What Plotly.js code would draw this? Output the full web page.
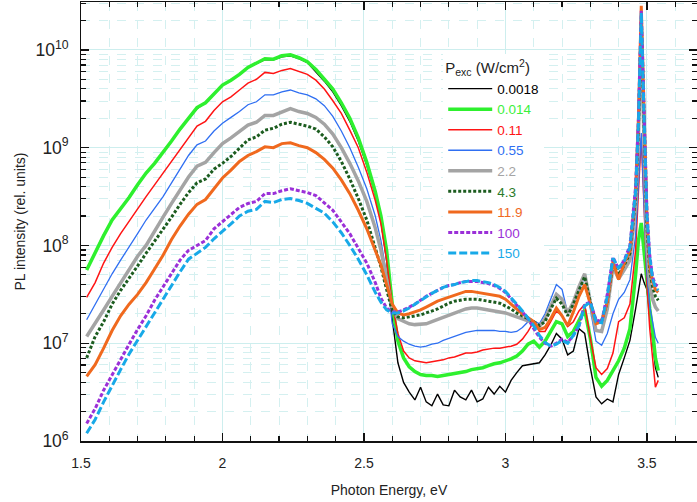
<!DOCTYPE html>
<html>
<head>
<meta charset="utf-8">
<script src="https://cdn.plot.ly/plotly-3.0.1.min.js"></script>
<style>html,body{margin:0;padding:0;background:#fff;}#chart{width:697px;height:502px;}</style>
</head>
<body>
<div id="chart"></div>
<script>
// Photon energy grid (eV)
const energy = [1.52,1.55,1.58,1.61,1.64,1.67,1.70,1.73,1.76,1.79,1.82,1.85,1.88,1.91,1.94,1.97,2.00,2.03,2.06,2.09,2.12,2.15,2.18,2.21,2.24,2.27,2.30,2.33,2.36,2.39,2.42,2.45,2.48,2.51,2.54,2.56,2.58,2.60,2.62,2.64,2.66,2.68,2.70,2.72,2.74,2.76,2.78,2.80,2.82,2.84,2.86,2.88,2.90,2.92,2.94,2.96,2.98,3.00,3.02,3.04,3.06,3.08,3.10,3.12,3.14,3.16,3.18,3.20,3.22,3.24,3.26,3.28,3.30,3.32,3.34,3.36,3.38,3.40,3.42,3.44,3.46,3.47,3.48,3.49,3.50,3.51,3.52,3.53,3.54];

// Legend labels (excitation power density, W/cm^2)
const powerLabels = ["0.0018","0.014","0.11","0.55","2.2","4.3","11.9","100","150"];

// PL intensity (rel. units) for each excitation power
const pl_0p0018 = [5.75e7,8.71e7,1.29e8,1.82e8,2.40e8,3.09e8,4.17e8,5.50e8,6.92e8,8.91e8,1.17e9,1.55e9,2.00e9,2.51e9,2.88e9,3.55e9,4.37e9,4.90e9,5.62e9,6.61e9,7.24e9,7.94e9,7.94e9,8.51e9,8.71e9,8.13e9,7.41e9,6.03e9,4.79e9,3.72e9,2.69e9,1.86e9,1.17e9,6.61e8,3.31e8,1.78e8,7.08e7,1.78e7,6.31e6,3.98e6,3.16e6,2.63e6,3.55e6,2.51e6,2.29e6,3.02e6,2.34e6,2.29e6,3.31e6,2.82e6,2.63e6,3.31e6,2.51e6,2.69e6,3.55e6,3.02e6,3.63e6,3.16e6,4.17e6,5.01e6,5.89e6,6.03e6,6.17e6,6.31e6,7.59e6,9.55e6,1.26e7,1.10e7,7.59e6,8.32e6,1.41e7,1.26e7,5.62e6,2.82e6,2.40e6,2.69e6,2.51e6,4.79e6,7.08e6,1.07e7,2.24e7,3.55e7,5.13e7,4.17e7,3.55e7,2.00e7,1.00e7,5.62e6,4.47e6];
const pl_0p014 = [5.62e7,8.51e7,1.26e8,1.82e8,2.34e8,3.09e8,4.17e8,5.50e8,6.92e8,8.91e8,1.17e9,1.55e9,2.00e9,2.57e9,2.88e9,3.55e9,4.37e9,4.90e9,5.62e9,6.61e9,7.41e9,8.13e9,8.04e9,8.71e9,8.91e9,8.32e9,7.59e9,6.31e9,5.01e9,3.98e9,2.88e9,2.00e9,1.26e9,7.08e8,3.55e8,2.00e8,8.91e7,2.51e7,1.05e7,7.08e6,5.75e6,5.13e6,4.79e6,4.68e6,4.68e6,4.57e6,4.68e6,4.79e6,4.90e6,5.01e6,5.13e6,5.37e6,5.50e6,5.62e6,5.89e6,6.17e6,6.31e6,6.61e6,6.92e6,7.41e6,8.32e6,9.77e6,1.05e7,9.12e6,1.05e7,1.32e7,1.66e7,1.58e7,1.17e7,1.32e7,1.74e7,2.19e7,1.12e7,4.47e6,3.63e6,4.17e6,5.25e6,6.61e6,8.91e6,1.41e7,5.01e7,1.12e8,1.70e8,8.32e7,3.80e7,2.24e7,1.35e7,7.08e6,5.25e6];
const pl_0p11 = [2.95e7,4.17e7,6.61e7,9.55e7,1.32e8,1.78e8,2.40e8,3.16e8,4.17e8,5.50e8,7.24e8,9.55e8,1.26e9,1.66e9,1.86e9,2.40e9,2.95e9,3.31e9,3.89e9,4.57e9,5.01e9,5.89e9,5.75e9,6.17e9,6.46e9,6.03e9,5.62e9,4.90e9,3.98e9,3.02e9,2.24e9,1.51e9,1.00e9,5.62e8,2.88e8,1.66e8,7.08e7,2.51e7,1.26e7,8.32e6,7.08e6,6.61e6,6.46e6,6.31e6,6.46e6,6.61e6,6.76e6,7.08e6,7.24e6,7.59e6,7.94e6,7.94e6,8.13e6,8.51e6,8.71e6,8.91e6,8.91e6,9.12e6,9.33e6,9.77e6,1.10e7,1.32e7,1.66e7,1.32e7,1.32e7,1.66e7,2.14e7,1.91e7,1.48e7,1.66e7,2.14e7,2.51e7,1.12e7,5.62e6,4.79e6,5.50e6,7.94e6,1.66e7,1.82e7,2.51e7,8.91e7,3.55e8,1.26e9,2.51e8,3.98e7,1.41e7,7.08e6,3.55e6,4.17e6];
const pl_0p55 = [1.74e7,2.51e7,3.55e7,5.13e7,7.08e7,9.55e7,1.32e8,1.82e8,2.40e8,3.16e8,4.37e8,6.03e8,8.32e8,1.07e9,1.17e9,1.48e9,1.78e9,2.04e9,2.34e9,2.75e9,2.95e9,3.47e9,3.47e9,3.72e9,3.89e9,3.63e9,3.47e9,3.16e9,2.69e9,2.09e9,1.48e9,1.00e9,6.31e8,3.80e8,2.00e8,1.12e8,5.01e7,1.58e7,1.17e7,1.05e7,9.77e6,9.33e6,9.12e6,9.33e6,9.77e6,1.00e7,1.07e7,1.12e7,1.17e7,1.23e7,1.29e7,1.32e7,1.35e7,1.35e7,1.35e7,1.35e7,1.32e7,1.32e7,1.29e7,1.32e7,1.45e7,1.66e7,1.70e7,1.58e7,2.00e7,2.82e7,3.98e7,3.55e7,2.04e7,2.51e7,3.55e7,4.79e7,2.24e7,1.05e7,9.55e6,1.26e7,2.00e7,2.82e7,3.31e7,4.47e7,1.26e8,3.98e8,1.41e9,2.51e8,5.01e7,2.40e7,1.58e7,1.15e7,1.00e7];
const pl_2p2 = [1.17e7,1.58e7,2.19e7,3.02e7,4.17e7,5.75e7,7.76e7,1.00e8,1.41e8,1.95e8,2.69e8,3.72e8,5.01e8,6.46e8,7.08e8,8.91e8,1.10e9,1.26e9,1.45e9,1.70e9,1.82e9,2.14e9,2.14e9,2.34e9,2.51e9,2.34e9,2.24e9,2.04e9,1.74e9,1.38e9,1.00e9,6.92e8,4.57e8,2.82e8,1.51e8,8.91e7,4.47e7,2.24e7,1.78e7,1.66e7,1.58e7,1.55e7,1.55e7,1.58e7,1.66e7,1.74e7,1.82e7,1.91e7,2.04e7,2.14e7,2.24e7,2.29e7,2.29e7,2.24e7,2.19e7,2.14e7,2.09e7,2.04e7,1.95e7,1.86e7,1.78e7,1.70e7,1.62e7,1.48e7,1.78e7,2.40e7,3.16e7,2.82e7,2.04e7,2.63e7,3.80e7,5.13e7,2.51e7,1.35e7,1.32e7,2.24e7,6.03e7,4.57e7,5.62e7,7.08e7,2.51e8,1.26e9,1.26e10,1.00e9,1.00e8,3.98e7,2.82e7,2.34e7,2.14e7];
const pl_4p3 = [7.08e6,1.17e7,1.66e7,2.51e7,3.47e7,4.57e7,6.17e7,8.32e7,1.10e8,1.48e8,1.95e8,2.63e8,3.47e8,4.37e8,4.79e8,6.03e8,6.92e8,8.13e8,9.77e8,1.20e9,1.29e9,1.51e9,1.58e9,1.74e9,1.82e9,1.74e9,1.66e9,1.55e9,1.29e9,1.02e9,7.24e8,4.79e8,3.02e8,1.82e8,9.55e7,6.03e7,3.55e7,2.14e7,1.86e7,1.82e7,1.86e7,1.91e7,1.95e7,2.04e7,2.14e7,2.24e7,2.40e7,2.57e7,2.69e7,2.75e7,2.82e7,2.82e7,2.82e7,2.75e7,2.69e7,2.63e7,2.57e7,2.40e7,2.24e7,2.04e7,1.91e7,1.78e7,1.66e7,1.51e7,1.66e7,2.24e7,2.88e7,2.51e7,1.91e7,2.51e7,3.55e7,4.79e7,2.63e7,1.66e7,1.70e7,2.63e7,6.61e7,5.01e7,6.31e7,8.32e7,3.16e8,1.58e9,2.00e10,1.58e9,1.58e8,5.62e7,3.80e7,3.02e7,2.75e7];
const pl_11p9 = [4.57e6,6.03e6,8.91e6,1.35e7,1.91e7,2.51e7,3.16e7,4.17e7,5.75e7,7.94e7,1.15e8,1.58e8,2.09e8,2.63e8,2.95e8,3.80e8,4.90e8,5.89e8,7.24e8,8.32e8,9.12e8,1.02e9,1.00e9,1.10e9,1.12e9,1.05e9,1.00e9,8.91e8,7.59e8,6.17e8,4.68e8,3.39e8,2.29e8,1.48e8,9.12e7,6.31e7,3.98e7,2.51e7,2.04e7,1.95e7,2.00e7,2.09e7,2.19e7,2.34e7,2.51e7,2.69e7,2.82e7,2.95e7,3.09e7,3.24e7,3.39e7,3.39e7,3.31e7,3.24e7,3.16e7,3.09e7,3.02e7,2.82e7,2.51e7,2.24e7,2.00e7,1.82e7,1.66e7,1.38e7,1.45e7,1.78e7,2.29e7,1.91e7,1.51e7,2.09e7,3.02e7,3.98e7,2.51e7,1.58e7,1.66e7,2.63e7,6.92e7,4.47e7,6.61e7,8.91e7,3.55e8,2.00e9,2.82e10,2.00e9,2.00e8,6.31e7,4.27e7,3.55e7,3.31e7];
const pl_100 = [1.51e6,2.14e6,3.31e6,4.79e6,6.76e6,9.77e6,1.38e7,1.91e7,2.75e7,3.80e7,5.13e7,7.08e7,8.91e7,1.00e8,1.12e8,1.48e8,1.74e8,2.09e8,2.45e8,2.69e8,2.82e8,3.39e8,3.39e8,3.63e8,3.80e8,3.63e8,3.47e8,3.24e8,2.75e8,2.29e8,1.74e8,1.32e8,9.33e7,6.61e7,4.17e7,2.88e7,2.29e7,2.09e7,2.09e7,2.19e7,2.34e7,2.51e7,2.75e7,3.02e7,3.24e7,3.47e7,3.72e7,3.89e7,3.98e7,4.17e7,4.27e7,4.27e7,4.27e7,4.17e7,4.07e7,3.89e7,3.63e7,3.31e7,2.88e7,2.45e7,2.09e7,1.78e7,1.41e7,1.15e7,1.00e7,9.33e6,1.00e7,1.10e7,1.02e7,1.20e7,1.51e7,2.51e7,2.63e7,1.74e7,1.66e7,3.16e7,7.59e7,5.75e7,7.08e7,1.00e8,3.98e8,2.00e9,2.51e10,2.00e9,2.24e8,7.94e7,4.79e7,3.98e7,3.80e7];
const pl_150 = [1.20e6,1.66e6,2.51e6,3.72e6,5.37e6,7.76e6,1.07e7,1.48e7,2.04e7,2.88e7,3.98e7,5.37e7,7.24e7,8.32e7,9.55e7,1.17e8,1.38e8,1.66e8,2.00e8,2.24e8,2.34e8,2.82e8,2.75e8,2.95e8,3.02e8,2.88e8,2.69e8,2.40e8,2.14e8,1.74e8,1.35e8,1.00e8,7.24e7,5.01e7,3.31e7,2.63e7,2.19e7,2.04e7,2.04e7,2.14e7,2.29e7,2.51e7,2.75e7,3.02e7,3.24e7,3.47e7,3.72e7,3.89e7,3.98e7,4.17e7,4.27e7,4.37e7,4.37e7,4.27e7,4.17e7,3.98e7,3.72e7,3.39e7,2.95e7,2.51e7,2.14e7,1.82e7,1.51e7,1.20e7,1.02e7,9.33e6,9.77e6,1.07e7,1.00e7,1.20e7,1.51e7,2.40e7,2.63e7,1.66e7,1.62e7,3.02e7,7.41e7,5.89e7,6.92e7,9.55e7,3.55e8,1.78e9,2.40e10,2.00e9,2.00e8,7.59e7,4.57e7,3.72e7,3.47e7];

const seriesValues = [pl_0p0018, pl_0p014, pl_0p11, pl_0p55, pl_2p2, pl_4p3, pl_11p9, pl_100, pl_150];
const lineColors = ["#000000","#2ef02e","#ff1414","#2f6ff2","#a4a4a4","#1c5c1f","#f0691e","#9b30d8","#17a9e8"];
const textColors = ["#000000","#3cf03c","#ff1414","#2f6ff2","#a4a4a4","#2a7a2a","#f0691e","#9b30d8","#17a9e8"];
const lineWidths = [1.4,3.5,1.5,1.3,3.5,3,3,3,3];
const lineDashes = ["solid","solid","solid","solid","solid","3px,2px","solid","4px,2px","8px,3px"];

const traces = seriesValues.map((vals, i) => ({
  x: energy,
  y: vals,
  type: "scatter",
  mode: "lines",
  name: '<span style="color:' + textColors[i] + '">' + powerLabels[i] + '</span>',
  line: {color: lineColors[i], width: lineWidths[i], dash: lineDashes[i]},
  hoverinfo: "x+y"
}));

const gridMajor = "#cdeeee";
const gridMinor = "#d4f0f0";
const fontFam = "Liberation Sans, Arial, sans-serif";

const layout = {
  width: 697,
  height: 502,
  margin: {l: 81, r: 0, t: 2, b: 61},
  paper_bgcolor: "#ffffff",
  plot_bgcolor: "#ffffff",
  font: {family: fontFam, size: 14, color: "#222222"},
  showlegend: true,
  legend: {
    x: 0.588, y: 0.882, xanchor: "left", yanchor: "top",
    bgcolor: "#ffffff",
    borderwidth: 0,
    itemwidth: 44,
    font: {family: fontFam, size: 13.5, color: "#222222"},
    title: {text: "P<sub>exc</sub> (W/cm<sup>2</sup>)", font: {family: fontFam, size: 15, color: "#222222"}},
    tracegroupgap: 0
  },
  xaxis: {
    range: [1.5, 3.677],
    tick0: 1.5, dtick: 0.5,
    ticks: "inside", ticklen: 8, tickwidth: 1.2, tickcolor: "#111111",
    showline: true, linecolor: "#111111", linewidth: 1.5, mirror: "ticks",
    showgrid: true, gridcolor: gridMajor, gridwidth: 1,
    zeroline: false,
    ticklabelstandoff: 9,
    tickfont: {family: fontFam, size: 14, color: "#222222"},
    minor: {dtick: 0.1, ticks: "inside", ticklen: 5, tickcolor: "#111111", showgrid: true, gridcolor: gridMinor, griddash: "dash", gridwidth: 1},
    title: {text: "Photon Energy, eV", font: {family: fontFam, size: 14, color: "#222222"}, standoff: 15}
  },
  yaxis: {
    type: "log",
    range: [6, 10.49],
    dtick: 1,
    exponentformat: "power",
    ticks: "inside", ticklen: 8, tickwidth: 1.2, tickcolor: "#111111",
    showline: true, linecolor: "#111111", linewidth: 1.5, mirror: "ticks",
    showgrid: true, gridcolor: gridMajor, gridwidth: 1,
    zeroline: false,
    ticklabelstandoff: 8,
    tickfont: {family: fontFam, size: 14, color: "#222222"},
    minor: {dtick: "D1", ticks: "inside", ticklen: 5, tickcolor: "#111111", showgrid: true, gridcolor: gridMinor, griddash: "dash", gridwidth: 1},
    title: {text: "PL intensity (rel. units)", font: {family: fontFam, size: 14, color: "#222222"}, standoff: 6}
  }
};

Plotly.newPlot("chart", traces, layout, {staticPlot: true, displayModeBar: false});
</script>
</body>
</html>
